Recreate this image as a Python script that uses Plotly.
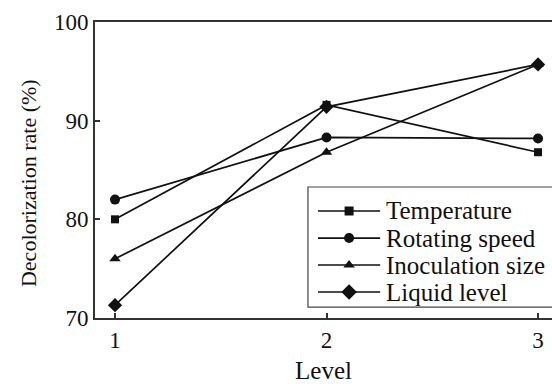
import plotly.graph_objects as go

# Orthogonal test: decolorization rate at each factor level
levels = [1, 2, 3]
temperature = [80.0, 91.6, 86.8]
rotating_speed = [82.0, 88.3, 88.2]
inoculation_size = [76.0, 86.8, 95.7]
liquid_level = [71.3, 91.4, 95.7]

series_names = ["Temperature", "Rotating speed", "Inoculation size", "Liquid level"]
series_values = [temperature, rotating_speed, inoculation_size, liquid_level]
symbols = ["square", "circle", "triangle-up", "diamond"]
marker_sizes = [8, 10, 10, 11]
legend_marker_sizes = [9, 10, 10, 12]

FONT = "Liberation Serif, Times New Roman, serif"
INK = "#111111"

fig = go.Figure()
for name, vals, sym, ms in zip(series_names, series_values, symbols, marker_sizes):
    fig.add_trace(go.Scatter(
        x=levels, y=vals, name=name, mode="lines+markers",
        line=dict(color=INK, width=1.7),
        marker=dict(symbol=sym, size=ms, color=INK),
        showlegend=False, cliponaxis=False,
    ))

# Hand-drawn legend: box, line samples, glyphs and labels in paper units
box_x0, box_x1, box_y0, box_y1 = 0.466, 1.05, 0.037, 0.4426
row_y = [0.3615, 0.270, 0.179, 0.0878]
sample_x0, sample_x1, glyph_x, text_x = 0.488, 0.624, 0.556, 0.633

fig.add_shape(type="rect", xref="paper", yref="paper",
              x0=box_x0, x1=box_x1, y0=box_y0, y1=box_y1,
              line=dict(color="#444444", width=1.2), fillcolor="white", layer="below")
for name, sym, lms, ry in zip(series_names, symbols, legend_marker_sizes, row_y):
    fig.add_shape(type="line", xref="paper", yref="paper",
                  x0=sample_x0, x1=sample_x1, y0=ry, y1=ry,
                  line=dict(color=INK, width=1.7), layer="below")
    fig.add_trace(go.Scatter(
        x=[glyph_x], y=[ry], xaxis="x2", yaxis="y2", mode="markers",
        marker=dict(symbol=sym, size=lms, color=INK),
        showlegend=False, hoverinfo="skip", cliponaxis=False,
    ))
    fig.add_annotation(xref="paper", yref="paper", x=text_x, y=ry,
                       text=name, showarrow=False, xanchor="left", yanchor="middle",
                       font=dict(family=FONT, size=25, color=INK))

# Vertical axis title, centred slightly below the middle of the axis
fig.add_annotation(xref="paper", yref="paper", x=-0.1466, y=0.456,
                   text="Decolorization rate (%)", textangle=-90, showarrow=False,
                   xanchor="center", yanchor="middle",
                   font=dict(family=FONT, size=22, color=INK))

axis_common = dict(
    showline=True, linecolor="#333333", linewidth=2,
    ticks="inside", ticklen=5, tickwidth=1.5, tickcolor="#333333",
    showgrid=False, zeroline=False,
    tickfont=dict(family=FONT, size=23, color=INK),
)

fig.update_layout(
    width=552, height=384,
    margin=dict(l=95, r=0, t=22, b=66),
    paper_bgcolor="white", plot_bgcolor="white",
    xaxis=dict(range=[0.9054, 3.066], tickvals=levels, mirror=True,
               title=dict(text="Level", font=dict(family=FONT, size=25, color=INK), standoff=12),
               **axis_common),
    yaxis=dict(range=[70, 100], tickvals=[70, 80, 90, 100], **axis_common),
    xaxis2=dict(overlaying="x", range=[0, 1], visible=False),
    yaxis2=dict(overlaying="y", range=[0, 1], visible=False),
)

fig.write_html("out.html")
